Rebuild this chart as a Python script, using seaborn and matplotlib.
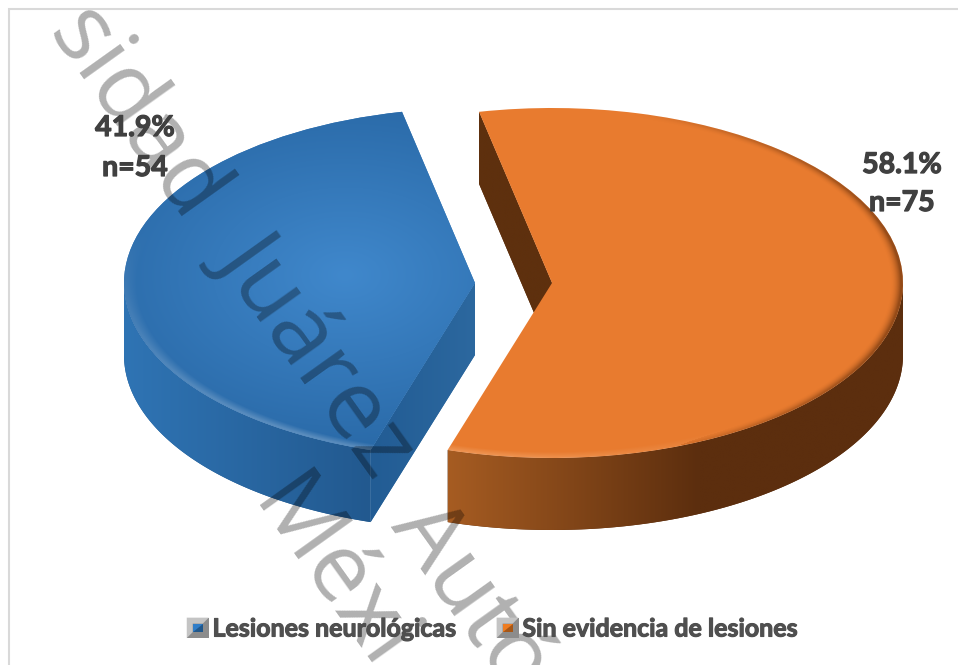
import numpy as np
import matplotlib
matplotlib.use("Agg")
import matplotlib.pyplot as plt
import matplotlib.patheffects as pe
from matplotlib.legend_handler import HandlerPatch
from matplotlib.patches import Patch, Polygon, Rectangle
from matplotlib.colors import to_rgb
import seaborn as sns

categories = ["Lesiones neurológicas", "Sin evidencia de lesiones"]
counts = [54, 75]
percent_labels = ["41.9%", "58.1%"]
n_labels = ["n=54", "n=75"]

sns.set_theme(style="white")
plt.rcParams["font.family"] = ["Lato", "DejaVu Sans"]

W, H = 958, 665
RX, RY = 351.0, 175.0
CY = 283.0
CX_ORANGE, CX_BLUE = 552.0, 475.0
DEPTH = 72.0 / RY
START = 102.0

fig = plt.figure(figsize=(W / 100, H / 100), dpi=100, facecolor="white")
ax = fig.add_axes([0, 0, 1, 1])


def dx(px):
    return (px - CX_ORANGE) / RX


def dy(py):
    return (CY - py) / RY


XLIM = (dx(0), dx(W))
YLIM = (dy(H), dy(0))
EXT = (XLIM[0], XLIM[1], YLIM[0], YLIM[1])

total = sum(counts)
sweep_orange = 360.0 * counts[1] / total
end_orange = START - sweep_orange  # shared clockwise boundary of both slices

w_o, _ = ax.pie([counts[1], counts[0]], colors=["#e87b2f", "none"], startangle=START,
                counterclock=False, center=(dx(CX_ORANGE), 0), radius=1,
                wedgeprops=dict(linewidth=0, zorder=2))
w_b, _ = ax.pie([counts[1], counts[0]], colors=["none", "#3577b8"], startangle=START,
                counterclock=False, center=(dx(CX_BLUE), 0), radius=1,
                wedgeprops=dict(linewidth=0, zorder=2))
orange_top, blue_top = w_o[0], w_b[1]


def paint_wall(verts, c_left, c_right, x0, x1, stop=1.0, zorder=1):
    t = np.clip(np.linspace(0, 1, 256) / stop, 0, 1)[None, :, None]
    img = (1 - t) * np.array(to_rgb(c_left)) + t * np.array(to_rgb(c_right))
    ax.add_patch(Polygon(verts, closed=True, facecolor=c_right, edgecolor="none", zorder=zorder - 0.1))
    ymin, ymax = verts[:, 1].min(), verts[:, 1].max()
    im = ax.imshow(img, extent=(x0, x1, ymin, ymax), aspect="auto", zorder=zorder, interpolation="bilinear")
    im.set_clip_path(Polygon(verts, closed=True, transform=ax.transData))


def outer_wall(cx, a0, a1):
    th = np.radians(np.linspace(a0, a1, 200))
    top = np.c_[cx + np.cos(th), np.sin(th)]
    bot = top[::-1] - [0, DEPTH]
    return np.vstack([top, bot])


def cut_wall(cx, angle):
    a = np.radians(angle)
    p = np.array([cx + np.cos(a), np.sin(a)])
    c = np.array([cx, 0.0])
    return np.array([p, c, c - [0, DEPTH], p - [0, DEPTH]])


co, cb = dx(CX_ORANGE), dx(CX_BLUE)
xe_o = co + np.cos(np.radians(end_orange))
xe_b = cb + np.cos(np.radians(end_orange))
paint_wall(outer_wall(co, end_orange, 0), "#a65c22", "#5c2e0e", xe_o, co + 1, stop=0.55)
paint_wall(cut_wall(co, START), "#5e300e", "#5e300e", co - 0.3, co)
paint_wall(outer_wall(cb, -180, end_orange), "#2f74b4", "#22598f", cb - 1, xe_b)
paint_wall(cut_wall(cb, end_orange), "#225c94", "#2c689f", xe_b, cb, zorder=1.2)

xx, yy = np.meshgrid(np.linspace(XLIM[0], XLIM[1], W), np.linspace(YLIM[1], YLIM[0], H))


def rim(cx):
    r = np.hypot(xx - cx, yy)
    ang = np.arctan2(yy, xx - cx)
    return np.clip((r - 0.965) / 0.03, 0, 1), ang


# blue radial gradient with a light front edge
gx, gy = dx(345), dy(275)
d = np.clip(np.hypot((xx - gx) / 0.75, (yy - gy) / 1.0), 0, 1)[..., None]
rgb = (1 - d) * np.array(to_rgb("#4088cc")) + d * np.array(to_rgb("#2a6aa8"))
t, ang = rim(cb)
light = (t * np.clip(-np.sin(ang) - 0.3 * np.cos(ang), 0, 1))[..., None]
rgb = rgb * (1 - 0.22 * light) + 0.22 * light
im = ax.imshow(rgb, extent=EXT, aspect="auto", zorder=3)
im.set_clip_path(blue_top)

# orange rim: darker to the right, lighter along the front edge
t, ang = rim(co)
dark = t ** 2 * np.clip(np.cos(ang) * 1.3 - 0.3, 0, 1)
lite = t * np.clip(-np.sin(ang) - 0.45, 0, 1) * np.clip(0.75 - np.cos(ang), 0, 1)
rgba = np.zeros((H, W, 4))
rgba[..., :3] = np.where((dark > lite)[..., None], [0.25, 0.1, 0.0], [1.0, 0.85, 0.7])
rgba[..., 3] = np.maximum(dark * 0.5, lite * 0.5)
im = ax.imshow(rgba, extent=EXT, aspect="auto", zorder=3)
im.set_clip_path(orange_top)

# data labels
for px, py, txt in [(135, 128, percent_labels[0]), (135, 168, n_labels[0]),
                    (902, 165, percent_labels[1]), (902, 203, n_labels[1])]:
    ax.text(dx(px), dy(py), txt, ha="center", va="center", fontsize=20.5, fontweight="bold",
            color="#404040", zorder=6,
            path_effects=[pe.withStroke(linewidth=0.9, foreground="#404040")])

# watermark: only the part that falls on the page
for px, py, txt, ha in [(184, 226, "sidad", "right"), (219, 255, "Juárez", "left"),
                        (390, 526, "Autó", "left"), (250, 504, "Méxi", "left")]:
    ax.text(dx(px), dy(py), txt, rotation=-54.5, rotation_mode="anchor", ha=ha, va="baseline",
            fontsize=68, color="black", alpha=0.31, family="Open Sans", zorder=5, clip_on=True)

# frame
ax.add_patch(Rectangle((9 / W, -0.2), 1.2, 1.2 - 8.5 / H, transform=ax.transAxes, fill=False,
                       edgecolor="#d9d9d9", linewidth=1.5, zorder=0.5))


class BevelKey(HandlerPatch):
    def create_artists(self, legend, orig, xd, yd, w, h, fontsize, trans):
        x0, y0 = -xd, -yd
        b = w * 0.27
        parts = [
            Rectangle((x0, y0), w, h, facecolor="#8c8c8c", edgecolor="none"),
            Polygon([(x0, y0), (x0, y0 + h), (x0 + w, y0 + h), (x0 + w - b, y0 + h - b),
                     (x0 + b, y0 + h - b), (x0 + b, y0 + b)], closed=True, facecolor="#c4c4c4", edgecolor="none"),
            Rectangle((x0 + b, y0 + b), w - 2 * b, h - 2 * b, facecolor=orig.get_facecolor(), edgecolor="none"),
            Polygon([(x0 + b, y0 + b), (x0 + w - b, y0 + b), (x0 + w - b, y0 + h - b)], closed=True,
                    facecolor="black", alpha=0.3, edgecolor="none"),
        ]
        for p in parts:
            p.set_transform(trans)
        return parts


handles = [Patch(facecolor="#2f7dc8"), Patch(facecolor="#ef7d22")]
leg = ax.legend(handles, categories, loc="center", bbox_to_anchor=(492.5 / W, 1 - 629 / H), ncol=2, frameon=False,
                prop=dict(family="Lato", weight="bold", size=18), labelcolor="#4f4f4f", handlelength=0.88,
                handleheight=0.88, handletextpad=0.15, columnspacing=1.6, borderpad=0, borderaxespad=0,
                handler_map={Patch: BevelKey()})
for txt in leg.get_texts():
    txt.set_path_effects([pe.withStroke(linewidth=0.8, foreground="#4f4f4f")])
leg.set_zorder(7)

ax.set_xlim(*XLIM)
ax.set_ylim(*YLIM)
ax.set_aspect("auto")
ax.set_axis_off()
fig.savefig("out.png", dpi=100, facecolor="white")
